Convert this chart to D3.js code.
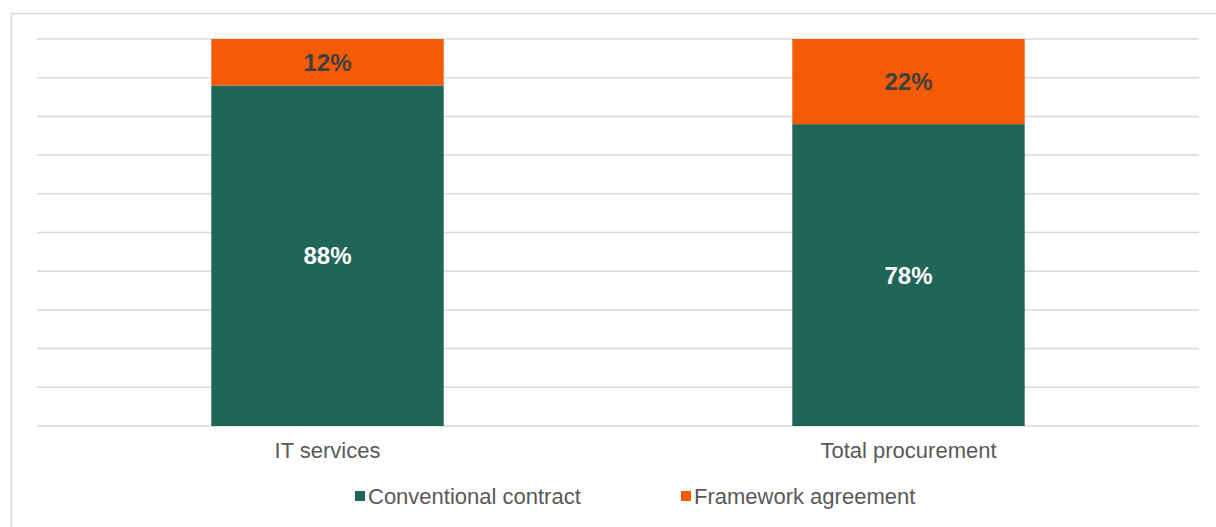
<!DOCTYPE html>
<html>
<head>
<meta charset="utf-8">
<script src="https://cdn.jsdelivr.net/npm/d3@7"></script>
<style>
  html, body { margin: 0; padding: 0; background: #fff; }
  svg { display: block; font-family: "Liberation Sans", Arial, sans-serif; }
</style>
</head>
<body>
<div id="chart"></div>
<script>
// data
const categories = ["IT services", "Total procurement"];
const seriesNames = ["Conventional contract", "Framework agreement"];
const conventional = [88, 78];
const framework = [12, 22];
const gridTicks = [0, 10, 20, 30, 40, 50, 60, 70, 80, 90, 100];

const colors = { "Conventional contract": "#1f6558", "Framework agreement": "#f55a05" };
const labelColors = { "Conventional contract": "#ffffff", "Framework agreement": "#404040" };

const W = 1216, H = 527;
const svg = d3.select("#chart").append("svg").attr("width", W).attr("height", H);

// outer frame (only left/top visible in the source)
svg.append("path")
  .attr("d", `M11.5,${H} V13.5 H${W}`)
  .attr("fill", "none").attr("stroke", "#d9d9d9").attr("stroke-width", 1.5);

const x = d3.scaleBand().domain(categories).range([37, 1199])
  .paddingInner(0.6).paddingOuter(0.3);
const y = d3.scaleLinear().domain([0, 100]).range([426, 39]);

// gridlines
svg.append("g").selectAll("line").data(gridTicks).join("line")
  .attr("x1", 37).attr("x2", 1199)
  .attr("y1", d => y(d)).attr("y2", d => y(d))
  .attr("stroke", "#d9d9d9").attr("stroke-width", 1.5);

const table = categories.map((c, i) => ({
  category: c,
  "Conventional contract": conventional[i],
  "Framework agreement": framework[i]
}));
const stacked = d3.stack().keys(seriesNames)(table);

const layer = svg.append("g").selectAll("g").data(stacked).join("g")
  .attr("fill", d => colors[d.key]);

layer.selectAll("rect").data(d => d).join("rect")
  .attr("x", d => x(d.data.category))
  .attr("width", x.bandwidth())
  .attr("y", d => y(d[1]))
  .attr("height", d => y(d[0]) - y(d[1]));

// value labels
svg.append("g").selectAll("g").data(stacked).join("g")
  .each(function (s) {
    d3.select(this).selectAll("text").data(s).join("text")
      .attr("x", d => x(d.data.category) + x.bandwidth() / 2)
      .attr("y", d => (y(d[0]) + y(d[1])) / 2)
      .attr("dy", "0.36em")
      .attr("text-anchor", "middle")
      .attr("font-size", 24).attr("font-weight", "bold")
      .attr("fill", labelColors[s.key])
      .text(d => (d[1] - d[0]) + "%");
  });

// x axis labels
const xAxis = svg.append("g").attr("transform", "translate(0,426)")
  .call(d3.axisBottom(x).tickSize(0).tickPadding(16));
xAxis.select(".domain").remove();
xAxis.selectAll("text").attr("font-size", 22).attr("fill", "#595959")
  .attr("font-family", "Liberation Sans, Arial, sans-serif");

// legend
const legendX = [355, 681];
const legend = svg.append("g").selectAll("g").data(seriesNames).join("g")
  .attr("transform", (d, i) => `translate(${legendX[i]},496)`);
legend.append("rect").attr("x", 0).attr("y", -5).attr("width", 10).attr("height", 10)
  .attr("fill", d => colors[d]);
legend.append("text").attr("x", 13).attr("dy", "0.36em")
  .attr("font-size", 22).attr("fill", "#595959").text(d => d);
</script>
</body>
</html>
